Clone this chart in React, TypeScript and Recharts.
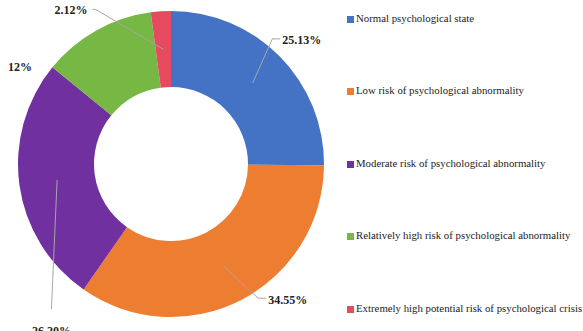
import { PieChart, Pie, Cell, Legend } from 'recharts'

const categories = [
  'Normal psychological state',
  'Low risk of psychological abnormality',
  'Moderate risk of psychological abnormality',
  'Relatively high risk of psychological abnormality',
  'Extremely high potential risk of psychological crisis',
]
const shares = [25.13, 34.55, 26.2, 12, 2.12]
const shareLabels = ['25.13%', '34.55%', '26.20%', '12%', '2.12%']
const colors = ['#4472C4', '#ED7D31', '#7030A0', '#76B843', '#E64A5E']

const FONT = 'Liberation Serif'

// where each label's leader line bends (polar, around the centre) and how the text sits
const labelLayout = [
  { r: 161, angle: 51, hook: 8, dx: 2, dy: 5, anchor: 'start', line: true },
  { r: 160, angle: -57, hook: 8, dx: 2, dy: 6, anchor: 'start', line: true },
  { r: 188, angle: -129.5, hook: 0, dx: 0, dy: 26, anchor: 'middle', line: true },
  { r: 180, angle: 147, hook: 0, dx: 0, dy: 5, anchor: 'middle', line: false },
  { r: 172, angle: 116, hook: -3, dx: -5, dy: 5, anchor: 'end', line: true },
]

const data = categories.map((name, i) => ({ name, value: shares[i] }))

const RADIAN = Math.PI / 180

const renderLabel = (props: any) => {
  const { cx, cy, midAngle, innerRadius, outerRadius, index } = props
  const lay = labelLayout[index]
  const midR = (innerRadius + outerRadius) / 2
  const sx = cx + midR * Math.cos(-midAngle * RADIAN)
  const sy = cy + midR * Math.sin(-midAngle * RADIAN)
  const ex = cx + lay.r * Math.cos(-lay.angle * RADIAN)
  const ey = cy + lay.r * Math.sin(-lay.angle * RADIAN)
  const hx = ex + lay.hook
  return (
    <g key={`lbl-${index}`}>
      {lay.line && (
        <polyline
          points={`${sx},${sy} ${ex},${ey} ${hx},${ey}`}
          fill="none"
          stroke="#A6A6A6"
          strokeWidth={1}
        />
      )}
      <text
        x={hx + lay.dx}
        y={ey + lay.dy}
        textAnchor={lay.anchor}
        fontFamily={FONT}
        fontWeight="bold"
        fontSize={12}
        fill="#222"
      >
        {shareLabels[index]}
      </text>
    </g>
  )
}

const renderLegend = () => (
  <div style={{ fontFamily: FONT, fontSize: 10.8, color: '#222' }}>
    {categories.map((c, i) => (
      <div key={c} style={{ height: 72.4, display: 'flex', alignItems: 'flex-start' }}>
        <span
          style={{
            display: 'inline-block',
            flex: 'none',
            width: 7,
            height: 7,
            background: colors[i],
            marginTop: 4,
            marginRight: 2,
          }}
        />
        <span style={{ whiteSpace: 'nowrap' }}>{c}</span>
      </div>
    ))}
  </div>
)

export default function App() {
  return (
    <div style={{ position: 'absolute', left: 0, top: 0, width: 583, height: 331, background: '#fff' }}>
      <PieChart width={583} height={331} margin={{ top: 0, right: 0, bottom: 0, left: 0 }}>
        <Pie
          data={data}
          dataKey="value"
          nameKey="name"
          cx={171}
          cy={164}
          innerRadius={77}
          outerRadius={153}
          startAngle={90}
          endAngle={-270}
          stroke="none"
          label={renderLabel}
          labelLine={false}
          isAnimationActive={false}
        >
          {data.map((d, i) => (
            <Cell key={d.name} fill={colors[i]} />
          ))}
        </Pie>
        <Legend
          layout="vertical"
          content={renderLegend}
          wrapperStyle={{ left: 347, top: 12, width: 236 }}
        />
      </PieChart>
    </div>
  )
}
